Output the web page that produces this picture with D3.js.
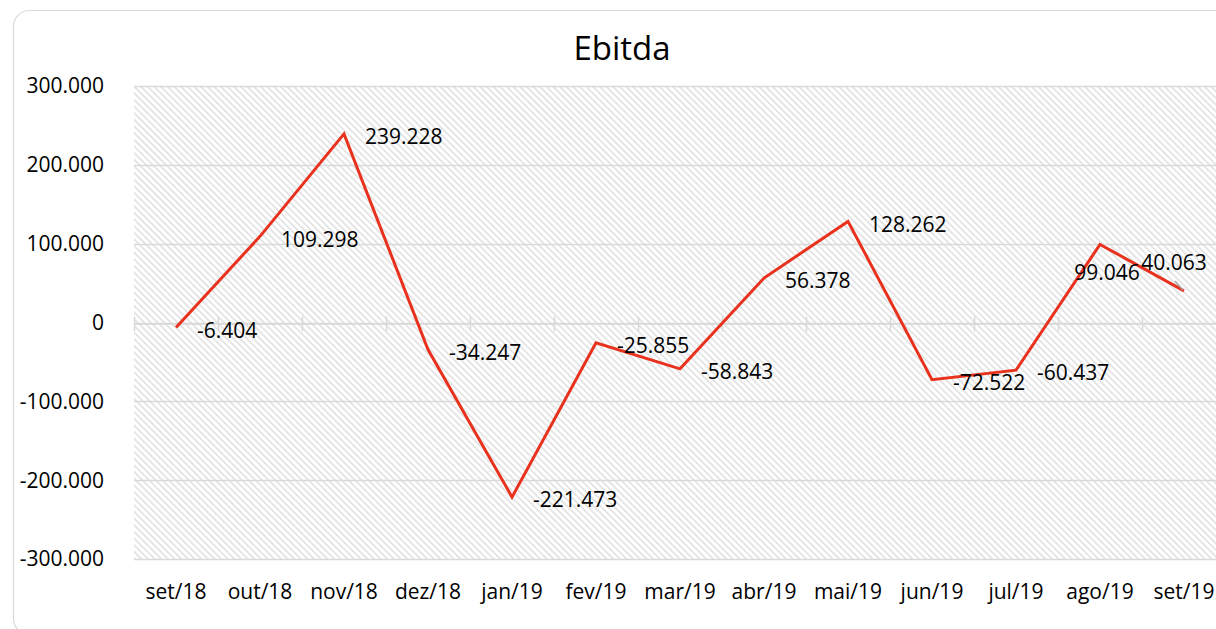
<!DOCTYPE html>
<html>
<head>
<meta charset="utf-8">
<script src="https://cdn.jsdelivr.net/npm/d3@7"></script>
<style>
  html, body { margin: 0; padding: 0; background: #fff; }
  svg { display: block; font-family: "Open Sans", "Noto Sans", sans-serif; }
</style>
</head>
<body>
<div id="chart"></div>
<script>
'use strict';

// chart data
const titleText = "Ebitda";
const categories = ["set/18", "out/18", "nov/18", "dez/18", "jan/19", "fev/19", "mar/19",
                    "abr/19", "mai/19", "jun/19", "jul/19", "ago/19", "set/19"];
const ebitdaValues = [-6404, 109298, 239228, -34247, -221473, -25855, -58843,
                      56378, 128262, -72522, -60437, 99046, 40063];
const yTicks = [-300000, -200000, -100000, 0, 100000, 200000, 300000];

const width = 1216, height = 629;
const plot = {left: 134, top: 86, bottom: 559, bandWidth: 84};
const fontSize = 21;

// pt-BR style numbers: 300.000, -6.404
const locale = d3.formatLocale({decimal: ",", thousands: ".", grouping: [3], currency: ["R$", ""], minus: "-"});
const fmt = locale.format(",d");

const svg = d3.select("#chart").append("svg")
    .attr("width", width)
    .attr("height", height);

// hatch pattern for the plot background
const defs = svg.append("defs");
defs.append("pattern")
    .attr("id", "hatch")
    .attr("patternUnits", "userSpaceOnUse")
    .attr("width", 4.7)
    .attr("height", 4.7)
    .attr("patternTransform", "rotate(-45)")
    .append("rect")
    .attr("width", 1.6)
    .attr("height", 4.7)
    .attr("fill", "#e0e0e0");

// chart frame
svg.append("rect")
    .attr("x", 13.5).attr("y", 10.5)
    .attr("width", 1218).attr("height", 624)
    .attr("rx", 16).attr("ry", 16)
    .attr("fill", "#fff")
    .attr("stroke", "#d9d9d9")
    .attr("stroke-width", 1.2);

const x = d3.scaleBand()
    .domain(categories)
    .range([plot.left, plot.left + categories.length * plot.bandWidth]);

const y = d3.scaleLinear()
    .domain([-300000, 300000])
    .range([plot.bottom, plot.top]);

const plotRight = x.range()[1];

svg.append("rect")
    .attr("x", plot.left).attr("y", plot.top)
    .attr("width", plotRight - plot.left)
    .attr("height", plot.bottom - plot.top)
    .attr("fill", "url(#hatch)");

// horizontal gridlines
svg.append("g")
    .selectAll("line")
    .data(yTicks)
    .enter()
    .append("line")
    .attr("x1", plot.left).attr("x2", plotRight)
    .attr("y1", d => Math.round(y(d)) + 0.5)
    .attr("y2", d => Math.round(y(d)) + 0.5)
    .attr("stroke", "#d9d9d9")
    .attr("stroke-width", 1.5);

// y tick labels
svg.append("g")
    .selectAll("text")
    .data(yTicks)
    .enter()
    .append("text")
    .attr("x", 104)
    .attr("y", d => y(d))
    .attr("dy", "0.35em")
    .attr("text-anchor", "end")
    .attr("font-size", fontSize)
    .attr("fill", "#000")
    .text(d => fmt(d));

// zero axis with category tick marks
const xAxis = d3.axisBottom(x).tickSize(0).tickFormat("");
const axisG = svg.append("g")
    .attr("transform", `translate(0,${Math.round(y(0)) + 0.5})`)
    .call(xAxis);
axisG.select(".domain").attr("stroke", "#d9d9d9").attr("stroke-width", 1.5);
axisG.selectAll(".tick").remove();
const boundaries = categories.map(c => x(c)).concat([plotRight]);
axisG.selectAll("line.cat-tick")
    .data(boundaries)
    .enter()
    .append("line")
    .attr("class", "cat-tick")
    .attr("x1", d => d + 0.5).attr("x2", d => d + 0.5)
    .attr("y1", -7).attr("y2", 8)
    .attr("stroke", "#d9d9d9")
    .attr("stroke-width", 1.5);

// category labels at the bottom
svg.append("g")
    .selectAll("text")
    .data(categories)
    .enter()
    .append("text")
    .attr("x", d => x(d) + x.bandwidth() / 2)
    .attr("y", 592)
    .attr("dy", "0.35em")
    .attr("text-anchor", "middle")
    .attr("font-size", fontSize)
    .attr("fill", "#000")
    .text(d => d);

// title
svg.append("text")
    .attr("x", 622)
    .attr("y", 48)
    .attr("dy", "0.35em")
    .attr("text-anchor", "middle")
    .attr("font-size", 33)
    .attr("fill", "#000")
    .text(titleText);

// series line
const points = categories.map((c, i) => ({cat: c, value: ebitdaValues[i]}));
const line = d3.line()
    .x(d => x(d.cat) + x.bandwidth() / 2)
    .y(d => y(d.value));

svg.append("path")
    .datum(points)
    .attr("d", line)
    .attr("fill", "none")
    .attr("stroke", "#e8321e")
    .attr("stroke-width", 3)
    .attr("stroke-linejoin", "miter");

// data labels sit to the right of each point; the last two were nudged
// in the original to keep them inside the frame
const n = points.length;
function labelPos(d, i) {
    const px = x(d.cat) + x.bandwidth() / 2;
    const py = y(d.value);
    if (i === n - 2) return {x: px + 7, y: py + 28, anchor: "middle"};
    if (i === n - 1) return {x: px - 10, y: py - 28, anchor: "middle"};
    return {x: px + 21, y: py + 3, anchor: "start"};
}

// leader line for the moved last label
const last = points[n - 1];
const lx = x(last.cat) + x.bandwidth() / 2, ly = y(last.value);
svg.append("line")
    .attr("x1", lx - 1).attr("y1", ly - 1)
    .attr("x2", lx - 9).attr("y2", ly - 10)
    .attr("stroke", "#a6a6a6")
    .attr("stroke-width", 1.5);

svg.append("g")
    .selectAll("text")
    .data(points)
    .enter()
    .append("text")
    .each(function(d, i) {
        const p = labelPos(d, i);
        d3.select(this)
            .attr("x", p.x)
            .attr("y", p.y)
            .attr("text-anchor", p.anchor);
    })
    .attr("dy", "0.35em")
    .attr("font-size", fontSize)
    .attr("fill", "#000")
    .text(d => fmt(d.value));
</script>
</body>
</html>
